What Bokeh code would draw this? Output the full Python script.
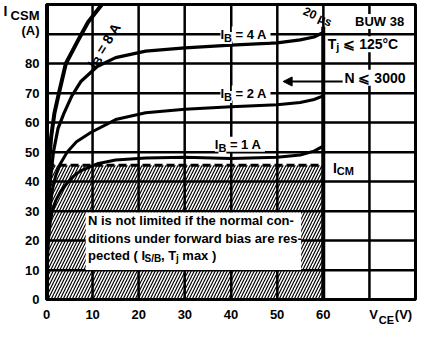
import math
from bokeh.plotting import figure
from bokeh.models import FixedTicker, Label, Span, Arrow, NormalHead, LinearAxis, BoxAnnotation
from bokeh.embed import file_html
from bokeh.resources import INLINE

# ---------------- data ----------------
ib1_v = [0, 0.15, 0.4, 0.8, 1.25, 2, 3, 4.5, 6, 7.5, 11, 15, 21.5, 30, 40, 50, 55, 58, 60]
ib1_i = [0, 12, 20, 26, 30, 33.5, 36.5, 39.5, 42, 43.7, 46, 47.3, 48, 48.2, 47.8, 48.2, 49, 50.3, 52]

ib2_v = [0, 0.3, 0.7, 1.25, 2, 3, 4.5, 6.5, 9.6, 15, 21.5, 30, 40, 50, 55, 58, 60]
ib2_i = [0, 20, 30, 37, 42, 46, 50, 53.5, 56.6, 61, 63.3, 64.5, 65.3, 66, 66.8, 67.8, 69]

ib4_v = [0, 0.3, 0.8, 1.5, 2.5, 3.75, 5.5, 7.5, 11, 15, 21.5, 30, 40, 50, 55, 58, 60]
ib4_i = [0, 25, 40, 50, 58, 63, 69, 74, 79, 82, 84.2, 85.3, 86.2, 87, 88, 89, 90.5]

ib8_v = [0, 0.2, 0.5, 1, 1.7, 2.7, 4.2, 6.9, 9, 12]
ib8_i = [0, 30, 45, 55, 63, 70, 80, 88, 94, 100]

icm_v = [0, 60]
icm_i = [45.5, 45.5]

limit_v = [60, 60]          # 20 us limit at VCE = 60 V
limit_i = [0, 92.5]

safe_left, safe_right, safe_bottom, safe_top = [0], [60], [0], [45.5]
note_left, note_right, note_bottom, note_top = [8.5], [55.2], [10], [29.5]

arrow_v = [64.2, 51.3]
arrow_i = [73.9, 73.9]

x_grid = [0, 10, 20, 30, 40, 50, 60, 70, 80]
y_grid = [0, 10, 20, 30, 40, 50, 60, 70, 80, 90, 100]

x_ticks = [0, 10, 20, 30, 40, 50, 60, 70.9, 77.4]
x_tick_labels = ["0", "10", "20", "30", "40", "50", "60", "V", "(V)"]
x_sub_ticks = [73.7]
x_sub_labels = ["CE"]

y_ticks = [0, 10, 20, 30, 40, 50, 60, 70, 80, 91.3, 96.4]
y_tick_labels = ["0", "10", "20", "30", "40", "50", "60", "70", "80", "(A)", "CSM"]
y_main_ticks = [97.9]
y_main_labels = ["I"]

FONT = "Liberation Sans"

# ---------------- figure ----------------
W_TOT, H_TOT = 417, 328
ML, MR, MT, MB = 42, 2, 4, 24
X0, X1, Y0, Y1 = 0, 80, 0, 100
p = figure(width=W_TOT, height=H_TOT, x_range=(X0, X1), y_range=(Y0, Y1),
           output_backend="svg", toolbar_location=None,
           min_border_left=ML, min_border_right=MR, min_border_top=MT, min_border_bottom=MB)
PX_X = (W_TOT - ML - MR) / 80.0
PX_Y = (H_TOT - MT - MB) / 100.0

p.background_fill_color = "white"
p.border_fill_color = "white"
p.outline_line_color = "black"
p.outline_line_width = 3
p.outline_line_alpha = 1


def style_axis(ax, size, standoff):
    ax.axis_line_color = None
    ax.major_tick_line_color = None
    ax.minor_tick_line_color = None
    ax.major_tick_out = 0
    ax.major_tick_in = 0
    ax.minor_tick_out = 0
    ax.major_label_text_font = FONT
    ax.major_label_text_font_style = "bold"
    ax.major_label_text_font_size = f"{size}px"
    ax.major_label_text_color = "black"
    ax.major_label_standoff = standoff


xa = p.xaxis[0]
ya = p.yaxis[0]
xa.ticker = FixedTicker(ticks=x_ticks)
ya.ticker = FixedTicker(ticks=y_ticks)
xa.major_label_overrides = {t: s for t, s in zip(x_ticks, x_tick_labels)}
ya.major_label_overrides = {t: s for t, s in zip(y_ticks, y_tick_labels)}
style_axis(xa, 13, 7)
style_axis(ya, 13, 7)

# subscript part of the x title (second axis pulled up under the first)
xa2 = LinearAxis(ticker=FixedTicker(ticks=x_sub_ticks),
                 major_label_overrides={t: s for t, s in zip(x_sub_ticks, x_sub_labels)})
style_axis(xa2, 11, -11)
p.add_layout(xa2, "below")
# main letter of the y title
ya2 = LinearAxis(ticker=FixedTicker(ticks=y_main_ticks),
                 major_label_overrides={t: s for t, s in zip(y_main_ticks, y_main_labels)})
style_axis(ya2, 14, 0)
p.add_layout(ya2, "left")

# built-in grid on the full 10-unit lattice
p.xgrid[0].ticker = FixedTicker(ticks=x_grid)
p.ygrid[0].ticker = FixedTicker(ticks=y_grid)
for g in (p.xgrid[0], p.ygrid[0]):
    g.grid_line_color = "black"
    g.grid_line_width = 2
    g.grid_line_alpha = 1.0

# hatched area (N not limited)
p.quad(left=safe_left, right=safe_right, bottom=safe_bottom, top=safe_top,
       fill_color=None, line_color=None, hatch_pattern="/", hatch_color="black",
       hatch_scale=6, hatch_weight=1.2, hatch_alpha=1)

# curves
for v, i, w in ((ib1_v, ib1_i, 3), (ib2_v, ib2_i, 3), (ib4_v, ib4_i, 3.2), (ib8_v, ib8_i, 4)):
    p.line(v, i, line_color="black", line_width=w, line_join="round", line_cap="round")

p.line(icm_v, icm_i, line_color="black", line_width=3, line_dash="8 4")
p.line(limit_v, limit_i, line_color="black", line_width=4)

# grid lines as span annotations (drawn from the grid lists)
for gx in x_grid:
    p.add_layout(Span(location=gx, dimension="height", line_color="black", line_width=2))
for gy in y_grid:
    p.add_layout(Span(location=gy, dimension="width", line_color="black", line_width=2))

# note box (white, above grid)
p.add_layout(BoxAnnotation(left=note_left[0], right=note_right[0], bottom=note_bottom[0],
                           top=note_top[0], fill_color="white", fill_alpha=1.0,
                           line_color=None, line_alpha=0))

p.add_layout(Span(location=0, dimension="height", line_color="black", line_width=5))

p.add_layout(Arrow(end=NormalHead(size=9, fill_color="black", line_color="black"),
                   x_start=arrow_v[0], y_start=arrow_i[0], x_end=arrow_v[1], y_end=arrow_i[1],
                   line_color="black", line_width=2))

# ---------------- text helpers ----------------
CW = {' ': .278, '\u00a0': .278, '(': .333, ')': .333, ',': .278, '-': .333, '.': .278, '/': .278,
      '=': .584, 'A': .722, 'B': .722, 'C': .722, 'E': .667, 'I': .278, 'M': .833, 'N': .722,
      'S': .667, 'T': .611, 'U': .722, 'V': .667, 'W': .944, '°': .4, 'µ': .611, '⩽': .584,
      'a': .556, 'b': .611, 'c': .556, 'd': .611, 'e': .556, 'f': .333, 'h': .611, 'i': .278,
      'j': .278, 'l': .278, 'm': .889, 'n': .611, 'o': .611, 'p': .611, 'r': .389, 's': .556,
      't': .333, 'u': .611, 'w': .778, 'x': .556}


def tw(s, size):
    return sum(0.556 if c.isdigit() else CW.get(c, 0.556) for c in s) * size


def keep_edges(s):
    # svg text drops leading/trailing blanks: keep them as no-break spaces
    n_lead = len(s) - len(s.lstrip(" "))
    n_trail = len(s) - len(s.rstrip(" "))
    core = s.strip(" ")
    return "\u00a0" * n_lead + core + "\u00a0" * n_trail


def rich(x, y, parts, angle=0.0, bg=None):
    a = math.radians(angle)
    off = 0.0
    for text, size, dy in parts:
        sx = off * math.cos(a) + dy * math.sin(a)
        sy = off * math.sin(a) - dy * math.cos(a)
        lab = Label(x=x + sx / PX_X, y=y + sy / PX_Y, text=keep_edges(text), angle=a,
                    text_font=FONT, text_font_style="bold", text_font_size=f"{size}px",
                    text_align="left", text_baseline="middle", text_color="black")
        if bg:
            lab.background_fill_color = bg
        p.add_layout(lab)
        off += tw(text, size)


# base current labels
rich(37.7, 90.0, [("I", 13, 0), ("B", 11, 4), (" = 4 A ", 13, 0)], bg="white")
rich(37.7, 70.0, [("I", 13, 0), ("B", 11, 4), (" = 2 A ", 13, 0)], bg="white")
rich(36.5, 52.6, [("I", 13, 0), ("B", 11, 4), (" = 1 A ", 13, 0)], bg="white")
rich(9.6, 79.0, [("I", 14, 0), ("B", 12, 3), (" = 8 A", 14, 0)], angle=58)

rich(55.8, 98.0, [("20 µs", 12, 0)], angle=-25)
rich(66.9, 94.2, [("BUW 38", 13, 0)], bg="white")
rich(61.0, 86.5, [("T", 14, 0), ("j", 11, 3), (" ⩽ 125°C", 14, 0)], bg="white")
rich(64.6, 75.2, [("N ⩽ 3000", 14, 0)], bg="white")
rich(62.1, 44.7, [("I", 14, 0), ("CM", 11, 3)], bg="white")

# note
rich(9.0, 26.7, [("N is not limited if the normal con-", 13, 0)])
rich(9.0, 20.6, [("ditions under forward bias are res-", 13, 0)])
rich(9.0, 14.8, [("pected ( I", 13, 0), ("S/B", 10, 3), (", T", 13, 0), ("j", 10, 3), (" max )", 13, 0)])

open("out.html", "w").write(file_html(p, INLINE))
